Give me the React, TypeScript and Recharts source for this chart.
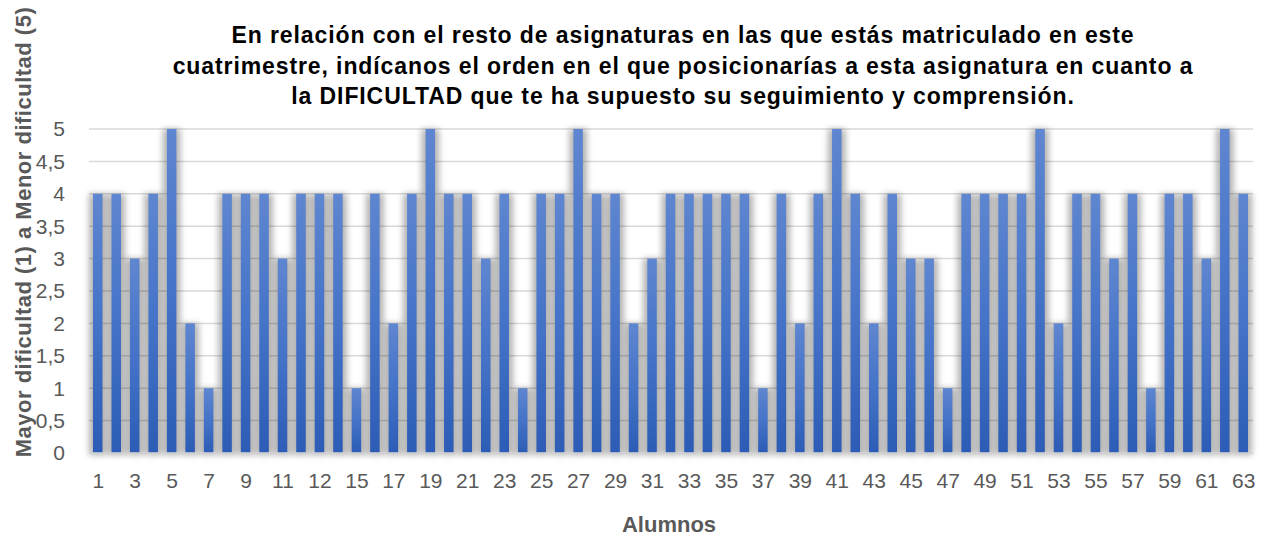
import React from "react";
import { Bar, BarChart, CartesianGrid, XAxis, YAxis } from "recharts";

// valoración de dificultad por alumno (1 = mayor, 5 = menor)
const alumnos = [
  "1", "2", "3", "4", "5", "6", "7", "8", "9", "10",
  "11", "12", "12", "14", "15", "16", "17", "18", "19", "20",
  "21", "22", "23", "24", "25", "26", "27", "28", "29", "30",
  "31", "32", "33", "34", "35", "36", "37", "38", "39", "40",
  "41", "42", "43", "44", "45", "46", "47", "48", "49", "50",
  "51", "52", "53", "54", "55", "56", "57", "58", "59", "60",
  "61", "62", "63"
];

const dificultad = [
  4, 4, 3, 4, 5, 2, 1, 4, 4, 4,
  3, 4, 4, 4, 1, 4, 2, 4, 5, 4,
  4, 3, 4, 1, 4, 4, 5, 4, 4, 2,
  3, 4, 4, 4, 4, 4, 1, 4, 2, 4,
  5, 4, 2, 4, 3, 3, 1, 4, 4, 4,
  4, 5, 2, 4, 4, 3, 4, 1, 4, 4,
  3, 5, 4
];

const yTicks = [0, 0.5, 1, 1.5, 2, 2.5, 3, 3.5, 4, 4.5, 5];

const titleLines = [
  "En relación con el resto de asignaturas en las que estás matriculado en este",
  "cuatrimestre, indícanos el orden en el que posicionarías a esta asignatura en cuanto a",
  "la DIFICULTAD que te ha supuesto su seguimiento y comprensión."
];

const data = alumnos.map((a, i) => ({ alumno: a, valor: dificultad[i] }));

const FONT = "'Liberation Sans', Arial, sans-serif";
const GRAY = "#595959";

function ShadowBar(props: any) {
  const { x, y, width, height } = props;
  if (!height) return null;
  return (
    <g>
      <rect
        x={x - 4}
        y={y}
        width={width + 8}
        height={height + 2}
        fill="#000"
        opacity={0.3}
        filter="url(#barShadow)"
      />
      <rect x={x} y={y} width={width} height={height} fill="url(#barGrad)" />
    </g>
  );
}

export default function App() {
  return (
    <div
      style={{
        position: "absolute",
        left: 0,
        top: 0,
        width: 1268,
        height: 538,
        background: "#fff",
        fontFamily: FONT
      }}
    >
      <div
        style={{
          position: "absolute",
          left: 133,
          width: 1100,
          top: 20,
          textAlign: "center",
          fontWeight: "bold",
          fontSize: 23,
          letterSpacing: 0.9,
          lineHeight: "30.5px",
          color: "#000"
        }}
      >
        {titleLines.map((l) => (
          <div key={l}>{l}</div>
        ))}
      </div>
      <div
        style={{
          position: "absolute",
          left: 24,
          top: 232,
          transform: "translate(-50%, -50%) rotate(-90deg)",
          whiteSpace: "nowrap",
          fontWeight: "bold",
          fontSize: 22,
          letterSpacing: 0.5,
          color: GRAY
        }}
      >
        Mayor dificultad (1) a Menor dificultad (5)
      </div>
      <div
        style={{
          position: "absolute",
          left: 669,
          top: 525,
          transform: "translate(-50%, -50%)",
          whiteSpace: "nowrap",
          fontWeight: "bold",
          fontSize: 22,
          color: GRAY
        }}
      >
        Alumnos
      </div>
      <div style={{ position: "absolute", left: 0, top: 0 }}>
        <BarChart
          width={1268}
          height={538}
          data={data}
          margin={{ top: 129, right: 15, bottom: 0, left: 29 }}
        >
          <defs>
            <linearGradient id="barGrad" x1="0" y1="0" x2="0" y2="1">
              <stop offset="0%" stopColor="#5f86d0" />
              <stop offset="50%" stopColor="#4473c8" />
              <stop offset="100%" stopColor="#2d5cb6" />
            </linearGradient>
            <filter id="barShadow" x="-200%" y="-20%" width="500%" height="140%">
              <feGaussianBlur stdDeviation="3" />
            </filter>
          </defs>
          <CartesianGrid vertical={false} stroke="#d9d9d9" strokeWidth={1.5} />
          <XAxis
            dataKey="alumno"
            interval={1}
            height={85}
            tickLine={false}
            axisLine={{ stroke: "#d9d9d9", strokeWidth: 1.5 }}
            tickMargin={14}
            tick={{ fill: GRAY, fontSize: 21, fontFamily: FONT }}
          />
          <YAxis
            domain={[0, 5]}
            ticks={yTicks}
            width={60}
            tickLine={false}
            axisLine={false}
            tickMargin={18}
            tickFormatter={(v: number) => String(v).replace(".", ",")}
            tick={{ fill: GRAY, fontSize: 21, fontFamily: FONT }}
          />
          <Bar dataKey="valor" barSize={9.5} shape={ShadowBar} isAnimationActive={false} />
        </BarChart>
      </div>
    </div>
  );
}
